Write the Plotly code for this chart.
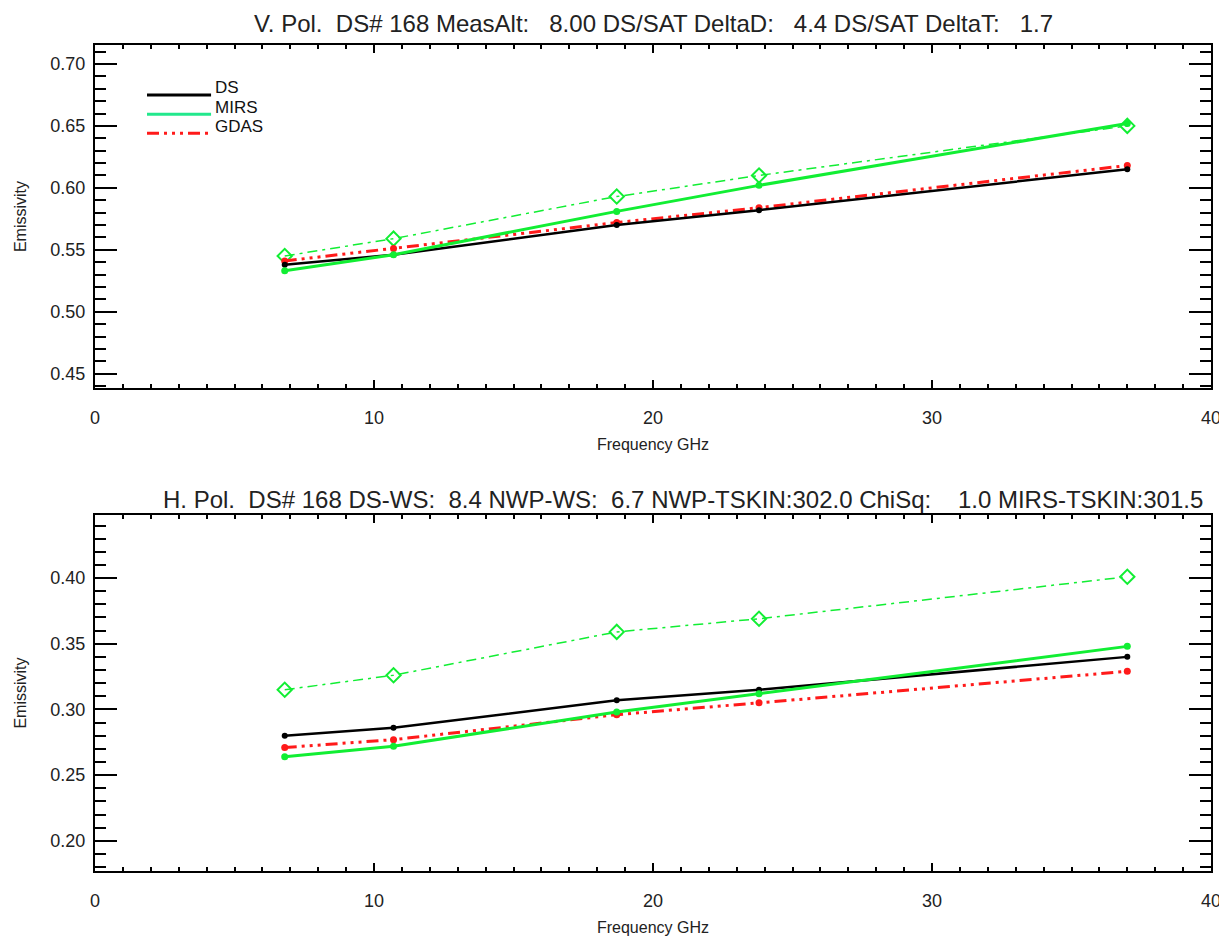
import plotly.graph_objects as go

# channel frequencies (GHz)
freq = [6.8, 10.7, 18.7, 23.8, 37.0]

# vertical polarisation emissivities
v_ds = [0.538, 0.546, 0.570, 0.582, 0.615]
v_mirs = [0.533, 0.546, 0.581, 0.602, 0.652]
v_gdas = [0.541, 0.551, 0.572, 0.584, 0.618]
v_ext = [0.545, 0.559, 0.593, 0.610, 0.650]

# horizontal polarisation emissivities
h_ds = [0.280, 0.286, 0.307, 0.315, 0.340]
h_mirs = [0.264, 0.272, 0.298, 0.312, 0.348]
h_gdas = [0.271, 0.277, 0.296, 0.305, 0.329]
h_ext = [0.315, 0.326, 0.359, 0.369, 0.401]

NB = "\u00a0"
v_title = ("V. Pol." + NB * 2 + "DS# 168 MeasAlt:" + NB * 3 + "8.00 DS/SAT DeltaD:" + NB * 3
           + "4.4 DS/SAT DeltaT:" + NB * 3 + "1.7")
h_title = ("H. Pol." + NB * 2 + "DS# 168 DS-WS:" + NB * 2 + "8.4 NWP-WS:" + NB * 2
           + "6.7 NWP-TSKIN:302.0 ChiSq:" + NB * 4 + "1.0 MIRS-TSKIN:301.5")

legend_names = ["DS", "MIRS", "GDAS"]
legend_colors = ["black", "#22e88c", "#ff1a1a"]
legend_dash = ["solid", "solid", "12px,5px,3px,5px,3px,5px,3px,5px"]

FONT = "Liberation Sans, Arial, sans-serif"
GREEN = "#11ee33"
RED = "#ff1a1a"
GDAS_DASH = "12px,5px,3px,5px,3px,5px,3px,5px"

v_range = [0.4384, 0.7153]
h_range = [0.177, 0.448]
x_range = [0, 40]


def add_panel(fig, xa, ya, ds, mirs, gdas, ext):
    fig.add_trace(go.Scatter(x=freq, y=ext, mode="lines+markers", name="EXT",
                             xaxis=xa, yaxis=ya,
                             line=dict(color=GREEN, width=1.5, dash="10px,5px,3px,5px"),
                             marker=dict(symbol="diamond-open", size=11, color=GREEN,
                                         line=dict(width=2, color=GREEN))))
    fig.add_trace(go.Scatter(x=freq, y=gdas, mode="lines+markers", name="GDAS",
                             xaxis=xa, yaxis=ya,
                             line=dict(color=RED, width=3, dash=GDAS_DASH),
                             marker=dict(size=7, color=RED)))
    fig.add_trace(go.Scatter(x=freq, y=ds, mode="lines+markers", name="DS",
                             xaxis=xa, yaxis=ya,
                             line=dict(color="black", width=2.5),
                             marker=dict(size=6, color="black")))
    fig.add_trace(go.Scatter(x=freq, y=mirs, mode="lines+markers", name="MIRS",
                             xaxis=xa, yaxis=ya,
                             line=dict(color=GREEN, width=3),
                             marker=dict(size=7, color=GREEN)))


fig = go.Figure()
add_panel(fig, "x", "y", v_ds, v_mirs, v_gdas, v_ext)
add_panel(fig, "x2", "y2", h_ds, h_mirs, h_gdas, h_ext)
# empty traces so the mirrored tick axes (top / right) are drawn
fig.add_trace(go.Scatter(x=[], y=[], xaxis="x3", yaxis="y3", showlegend=False))
fig.add_trace(go.Scatter(x=[], y=[], xaxis="x4", yaxis="y4", showlegend=False))

tick_font = dict(family=FONT, size=18, color="#222")
title_font = dict(family=FONT, size=16, color="#222")


def xaxis(anchor, labels=True, side="bottom", overlay=None):
    ax = dict(range=x_range, dtick=10, anchor=anchor, side=side, automargin=False,
              showline=True, linewidth=2, linecolor="black", mirror=True,
              ticks="inside", ticklen=8, tickwidth=1.5, tickcolor="black",
              minor=dict(dtick=1, ticks="inside", ticklen=4, tickwidth=1.5, tickcolor="black"),
              showgrid=False, zeroline=False, showticklabels=labels,
              tickfont=tick_font, ticklabelstandoff=12)
    if labels:
        ax["title"] = dict(text="Frequency GHz", standoff=12, font=title_font)
    if overlay:
        ax["overlaying"] = overlay
    return ax


def yaxis(anchor, rng, domain=None, labels=True, side="left", overlay=None):
    ax = dict(range=rng, dtick=0.05, tickformat=".2f", anchor=anchor, side=side,
              automargin=False,
              showline=True, linewidth=2, linecolor="black", mirror=True,
              ticks="inside", ticklen=22, tickwidth=2, tickcolor="black",
              minor=dict(dtick=0.01, ticks="inside", ticklen=11, tickwidth=2, tickcolor="black"),
              showgrid=False, zeroline=False, showticklabels=labels,
              tickfont=tick_font, ticklabelstandoff=4)
    if domain:
        ax["domain"] = domain
    if labels:
        ax["title"] = dict(text="Emissivity", standoff=20, font=title_font)
    if overlay:
        ax["overlaying"] = overlay
    return ax


fig.update_layout(
    xaxis=xaxis("y"),
    yaxis=yaxis("x", v_range, domain=[0.5847, 1.0]),
    xaxis2=xaxis("y2"),
    yaxis2=yaxis("x2", h_range, domain=[0.0, 0.431]),
    xaxis3=xaxis("y", labels=False, side="top", overlay="x"),
    yaxis3=yaxis("x", v_range, labels=False, side="right", overlay="y"),
    xaxis4=xaxis("y2", labels=False, side="top", overlay="x2"),
    yaxis4=yaxis("x2", h_range, labels=False, side="right", overlay="y2"),
)

# titles above each panel
fig.add_annotation(text=v_title, xref="paper", yref="paper", x=0.5, y=1.0,
                   yanchor="middle", yshift=22, showarrow=False,
                   font=dict(family=FONT, size=24, color="#222"))
fig.add_annotation(text=h_title, xref="paper", yref="paper", x=0.5, y=0.431,
                   yanchor="middle", yshift=15, xshift=30, showarrow=False,
                   font=dict(family=FONT, size=24, color="#222"))

# legend drawn IDL-style inside the top panel
for i, name in enumerate(legend_names):
    yl = 0.9395 - i * 0.0232
    fig.add_shape(type="line", xref="paper", yref="paper", x0=0.0466, x1=0.1040,
                  y0=yl, y1=yl, line=dict(color=legend_colors[i], width=3, dash=legend_dash[i]))
    fig.add_annotation(text=name, xref="paper", yref="paper", x=0.1055, y=yl,
                       xanchor="left", yanchor="middle", yshift=7, showarrow=False,
                       font=dict(family=FONT, size=17, color="#111"))

# the page body adds an 8px offset, so the figure is 8px smaller than the window
fig.update_layout(width=1219, height=931, showlegend=False,
                  paper_bgcolor="white", plot_bgcolor="white",
                  margin=dict(l=87, r=16, t=37, b=68))

fig.write_html("out.html")
